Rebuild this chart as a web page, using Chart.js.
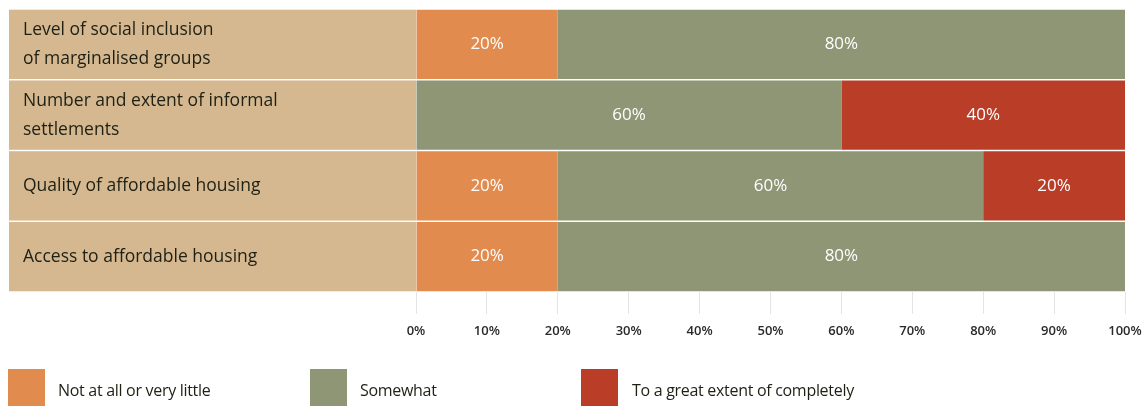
<!DOCTYPE html>
<html><head><meta charset="utf-8">
<script src="https://cdn.jsdelivr.net/npm/chart.js@4/dist/chart.umd.min.js"></script>
<style>
html,body{margin:0;padding:0;background:#fff;}
#wrap{position:relative;width:1143px;height:406px;overflow:hidden;}
canvas{position:absolute;left:0;top:0;}
.box{position:absolute;top:369px;width:37px;height:40px;}
.txt{position:absolute;top:380px;font-family:"Open Sans",sans-serif;font-size:16px;color:#1e2014;white-space:nowrap;line-height:20px;letter-spacing:-0.3px;}
</style></head>
<body><div id="wrap"><canvas id="c" width="1143" height="406"></canvas>
<div class="box" style="left:8px;background:#E28B4E"></div><div class="txt" style="left:58px">Not at all or very little</div>
<div class="box" style="left:310px;background:#8F9675"></div><div class="txt" style="left:360px">Somewhat</div>
<div class="box" style="left:581px;background:#B93D27"></div><div class="txt" style="left:632px">To a great extent of completely</div>
</div>
<script>
const categories = [["Level of social inclusion","of marginalised groups"],["Number and extent of informal","settlements"],"Quality of affordable housing","Access to affordable housing"];
const seriesNames = ["Not at all or very little","Somewhat","To a great extent of completely"];
const notAtAll = [20, 0, 20, 20];
const somewhat = [80, 60, 60, 80];
const greatExtent = [0, 40, 20, 0];
const xTicks = [0,10,20,30,40,50,60,70,80,90,100];

const panelPlugin = {
  id:'panel',
  beforeDraw(chart){
    const ctx = chart.ctx, x = chart.scales.x;
    const meta = chart.getDatasetMeta(0);
    ctx.save();
    ctx.fillStyle = '#D5B890';
    meta.data.forEach(bar=>{
      const h = bar.height;
      ctx.fillRect(9, bar.y - h/2, x.left - 9, h);
    });
    ctx.restore();
  },
  afterDatasetsDraw(chart){
    const ctx = chart.ctx;
    ctx.save();
    ctx.fillStyle = '#fff';
    ctx.font = '17px "Open Sans", sans-serif';
    ctx.textAlign = 'center';
    ctx.textBaseline = 'middle';
    chart.data.datasets.forEach((ds,di)=>{
      const meta = chart.getDatasetMeta(di);
      meta.data.forEach((bar,i)=>{
        const v = ds.data[i];
        if(!v) return;
        const cx = (bar.x + bar.base)/2;
        ctx.fillText(v + '%', cx, bar.y);
      });
    });
    ctx.restore();
  }
};

new Chart(document.getElementById('c'),{
  type:'bar',
  data:{
    labels:categories,
    datasets:[
      {label:seriesNames[0],data:notAtAll,backgroundColor:'#E28B4E'},
      {label:seriesNames[1],data:somewhat,backgroundColor:'#8F9675'},
      {label:seriesNames[2],data:greatExtent,backgroundColor:'#B93D27'}
    ]
  },
  options:{
    indexAxis:'y',
    responsive:false,
    animation:false,
    layout:{padding:{left:23,top:9,right:18,bottom:64}},
    datasets:{bar:{barPercentage:0.98,categoryPercentage:1,borderWidth:0}},
    plugins:{legend:{display:false},tooltip:{enabled:false}},
    scales:{
      x:{
        stacked:true,min:0,max:100,
        afterFit(s){s.height=50;s.paddingLeft=0;s.paddingRight=0;},
        afterBuildTicks(s){s.ticks = xTicks.map(v=>({value:v}));},
        border:{display:false},
        grid:{color:'#e4e4e4',drawOnChartArea:false,tickLength:22,lineWidth:1},
        ticks:{callback:v=>v+'%',color:'#2a2a2a',padding:9,maxRotation:0,autoSkip:false,
          font:{family:'"Open Sans", sans-serif',size:13,weight:'600'}}
      },
      y:{
        stacked:true,
        afterFit(s){s.width=393;s.paddingTop=0;s.paddingBottom=0;},
        border:{display:false},
        grid:{display:false},
        ticks:{crossAlign:'far',color:'#1e2014',padding:0,
          font:{family:'"Open Sans", sans-serif',size:17.5,lineHeight:1.66}}
      }
    }
  },
  plugins:[panelPlugin]
});
</script></body></html>
